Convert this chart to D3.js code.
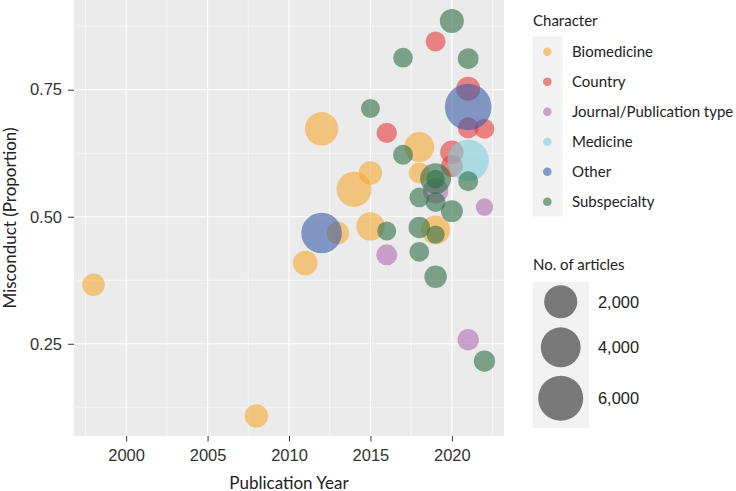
<!DOCTYPE html>
<html><head><meta charset="utf-8">
<script src="https://cdn.jsdelivr.net/npm/d3@7"></script>
<style>body{margin:0;background:#fff}svg{display:block}</style>
</head><body><svg id="c" width="736" height="491"></svg>
<script>
const categories = ["Biomedicine","Country","Journal/Publication type","Medicine","Other","Subspecialty"];
const colors = ["#F5A833","#E63C3C","#B06CB0","#80D0DC","#3A5CA8","#2F7046"];
const pointCategory = [
 "Biomedicine","Biomedicine","Biomedicine","Biomedicine","Biomedicine","Biomedicine","Biomedicine","Biomedicine","Biomedicine","Biomedicine","Biomedicine",
 "Country","Country","Country","Country","Country","Country","Country",
 "Journal/Publication type","Journal/Publication type","Journal/Publication type","Journal/Publication type",
 "Medicine",
 "Other","Other",
 "Subspecialty","Subspecialty","Subspecialty","Subspecialty","Subspecialty","Subspecialty","Subspecialty","Subspecialty","Subspecialty","Subspecialty","Subspecialty","Subspecialty","Subspecialty","Subspecialty","Subspecialty","Subspecialty","Subspecialty"
];
const pointYear = [
 1998,2008,2011,2012,2013,2014,2015,2015,2018,2018,2019,
 2019,2021,2021,2022,2016,2020,2020,
 2022,2016,2021,2019,
 2021,
 2021,2012,
 2020,2017,2021,2015,2017,2021,2018,2019,2019,2019,2020,2016,2018,2019,2018,2019,2022
];
const pointMisconduct = [
 0.366,0.108,0.409,0.673,0.468,0.554,0.586,0.481,0.637,0.586,0.474,
 0.845,0.752,0.675,0.673,0.665,0.627,0.600,
 0.519,0.425,0.258,0.551,
 0.611,
 0.716,0.468,
 0.885,0.813,0.811,0.713,0.622,0.570,0.538,0.575,0.574,0.529,0.511,0.472,0.479,0.465,0.431,0.382,0.216
];
const pointArticles = [
 300,380,500,2075,300,2490,380,1030,1325,200,1140,
 150,440,200,150,170,380,260,
 100,200,220,600,
 4600,
 6680,4250,
 440,140,200,120,150,150,140,1500,110,150,260,120,230,105,140,300,220
];
const xTicks = [2000,2005,2010,2015,2020];
const yTicks = [0.25,0.50,0.75];
const sizeBreaks = [2000,4000,6000];
const sizeLabels = ["2,000","4,000","6,000"];

const svg = d3.select("#c");
const P = {l:74, r:504, t:0, b:436};
const x = d3.scaleLinear().domain([1996.8, 2023.2]).range([P.l, P.r]);
const y = d3.scaleLinear().domain([0.0685, 0.9265]).range([P.b, P.t]);
const nMin = 100, nMax = 7000;
const rS = d3.scaleSqrt().domain([0, nMax - nMin]).range([8.7, 23.65]);
const r = n => rS(Math.max(0, n - nMin));
const col = d3.scaleOrdinal().domain(categories).range(colors);
const ALPHA = 0.6;
const tickFont = "'Liberation Sans', Arial, sans-serif";
const textFont = "Lato, 'Noto Sans', sans-serif";

svg.append("rect").attr("x",P.l).attr("y",P.t).attr("width",P.r-P.l).attr("height",P.b-P.t).attr("fill","#EBEBEB");
const g = svg.append("g");
const xMinor = xTicks.map(t=>t-2.5).concat([2022.5]);
const yMinor = [0.125,0.375,0.625,0.875];
g.selectAll(".xm").data(xMinor).join("line").attr("x1",d=>x(d)).attr("x2",d=>x(d)).attr("y1",P.t).attr("y2",P.b).attr("stroke","#fff").attr("stroke-width",0.6);
g.selectAll(".ym").data(yMinor).join("line").attr("y1",d=>y(d)).attr("y2",d=>y(d)).attr("x1",P.l).attr("x2",P.r).attr("stroke","#fff").attr("stroke-width",0.6);
g.selectAll(".xM").data(xTicks).join("line").attr("x1",d=>x(d)).attr("x2",d=>x(d)).attr("y1",P.t).attr("y2",P.b).attr("stroke","#fff").attr("stroke-width",1.2);
g.selectAll(".yM").data(yTicks).join("line").attr("y1",d=>y(d)).attr("y2",d=>y(d)).attr("x1",P.l).attr("x2",P.r).attr("stroke","#fff").attr("stroke-width",1.2);

const pts = pointYear.map((yr,i)=>({yr, v:pointMisconduct[i], n:pointArticles[i], c:pointCategory[i]}));
svg.append("g").selectAll("circle").data(pts).join("circle")
  .attr("cx",d=>x(d.yr)).attr("cy",d=>y(d.v)).attr("r",d=>r(d.n))
  .attr("fill",d=>col(d.c)).attr("fill-opacity",ALPHA);

const xa = svg.append("g").attr("transform",`translate(0,${P.b})`)
  .call(d3.axisBottom(x).tickValues(xTicks).tickFormat(d3.format("d")).tickSizeInner(5.5).tickSizeOuter(0).tickPadding(7.5));
const ya = svg.append("g").attr("transform",`translate(${P.l},0)`)
  .call(d3.axisLeft(y).tickValues(yTicks).tickFormat(d3.format(".2f")).tickSizeInner(6).tickSizeOuter(0).tickPadding(6));
[xa,ya].forEach(a=>{
  a.select(".domain").remove();
  a.selectAll(".tick line").attr("stroke","#333").attr("stroke-width",1);
  a.selectAll(".tick text").attr("fill","#333").style("font-family",tickFont).style("font-size","16.5px");
});
svg.append("text").attr("x",(P.l+P.r)/2).attr("y",488.5).attr("text-anchor","middle")
  .style("font-family",textFont).style("font-size","17px").attr("fill","#222").text("Publication Year");
svg.append("text").attr("transform",`translate(16,${(P.t+P.b)/2}) rotate(-90)`).attr("text-anchor","middle")
  .style("font-family",textFont).style("font-size","17px").attr("fill","#222").text("Misconduct (Proportion)");

const L = svg.append("g");
L.append("text").attr("x",533).attr("y",25.5).style("font-family",textFont).style("font-size","15px").attr("fill","#222").text("Character");
L.append("rect").attr("x",532.5).attr("y",36.5).attr("width",30).attr("height",180).attr("fill","#F2F2F2");
const li = L.selectAll(".li").data(categories).join("g").attr("transform",(d,i)=>`translate(0,${51.7+i*30})`);
li.append("circle").attr("cx",547.3).attr("cy",0).attr("r",4.3).attr("fill",d=>col(d)).attr("fill-opacity",ALPHA);
li.append("text").attr("x",572).attr("y",5.3).style("font-family",textFont).style("font-size","15px").attr("fill","#222").text(d=>d);

const S = svg.append("g");
S.append("text").attr("x",533).attr("y",270).style("font-family",textFont).style("font-size","15px").attr("fill","#222").text("No. of articles");
S.append("rect").attr("x",532.5).attr("y",282).attr("width",56.5).attr("height",146).attr("fill","#F2F2F2");
const sy = [301.7,347.3,398.3];
const si = S.selectAll(".si").data(sizeBreaks).join("g").attr("transform",(d,i)=>`translate(0,${sy[i]})`);
si.append("circle").attr("cx",560.7).attr("cy",0).attr("r",d=>r(d)).attr("fill","#000").attr("fill-opacity",0.5);
si.append("text").attr("x",598).attr("y",5.8).style("font-family",tickFont).style("font-size","16.4px").attr("fill","#222").text((d,i)=>sizeLabels[i]);
</script></body></html>
